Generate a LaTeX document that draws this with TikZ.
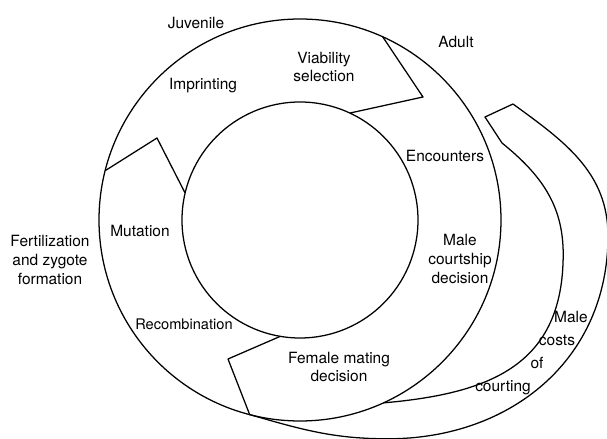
\documentclass[tikz,border=0pt]{standalone}
\usepackage{fontspec}
\setmainfont{TeX Gyre Heros}
\usetikzlibrary{calc}

\begin{document}
\begin{tikzpicture}[line width=0.9pt, line join=round,
    stage/.style={align=center, inner sep=1pt, font=\fontsize{11}{13.2}\selectfont}]
  \useasboundingbox (-7.5,-5.475) rectangle (7.675,5.5);

  % Life cycle ring
  \draw (0,0) circle (2.95);
  \draw (0,0) circle (5.025);

  % Notches between the stages
  \draw (65.7:5.025) -- (3.075,3.075) -- (65:2.95);
  \draw (165.8:5.025) -- (-3.575,2.05) -- (166.8:2.95);
  \draw (-99.6:2.95) -- (-1.8,-3.475) -- (-104.5:5.025);

  % Male costs band
  \draw (5.05,1.925) -- (4.625,2.575) -- (5.325,2.9);
  \draw (5.325,2.9) to[out=-36, in=90] (7.7,-0.4)
    to[out=-90, in=0, looseness=1.05] (2.2,-5.47)
    to[out=180, in=-16] (-104.5:5.025);
  \draw (5.05,1.925) to[out=-39, in=90] (6.58,-0.85)
    to[out=-90, in=5, looseness=1.2] (-65.5:5.025);

  % Stage names
  \node[stage] (juvenile) at (-2.6, 4.925) {Juvenile};
  \node[stage] (adult) at (3.9, 4.45) {Adult};
  \node[stage] (fertil) at (-6.25, -1.0) {Fertilization\\and zygote\\formation};

  % Events
  \node[stage] (viab) at (0.6, 3.825) {Viability\\selection};
  \node[stage] (imprint) at (-2.425, 3.35) {Imprinting};
  \node[stage] (encount) at (3.625, 1.6) {Encounters};
  \node[stage] (courtship) at (4.0, -0.975) {Male\\courtship\\decision};
  \node[stage] (mutat) at (-4.0, -0.275) {Mutation};
  \node[stage, font=\fontsize{10.4}{12.5}\selectfont] (recomb) at (-2.9, -2.6) {Recombination};
  \node[stage] (femmating) at (0.975, -3.675) {Female mating\\decision};

  % Costs of courting
  \node[stage] (costa) at (6.775, -2.425) {Male};
  \node[stage] (costb) at (6.425, -3.0) {costs};
  \node[stage] (costc) at (5.925, -3.575) {of};
  \node[stage] (costd) at (5.075, -4.2) {courting};
\end{tikzpicture}
\end{document}
